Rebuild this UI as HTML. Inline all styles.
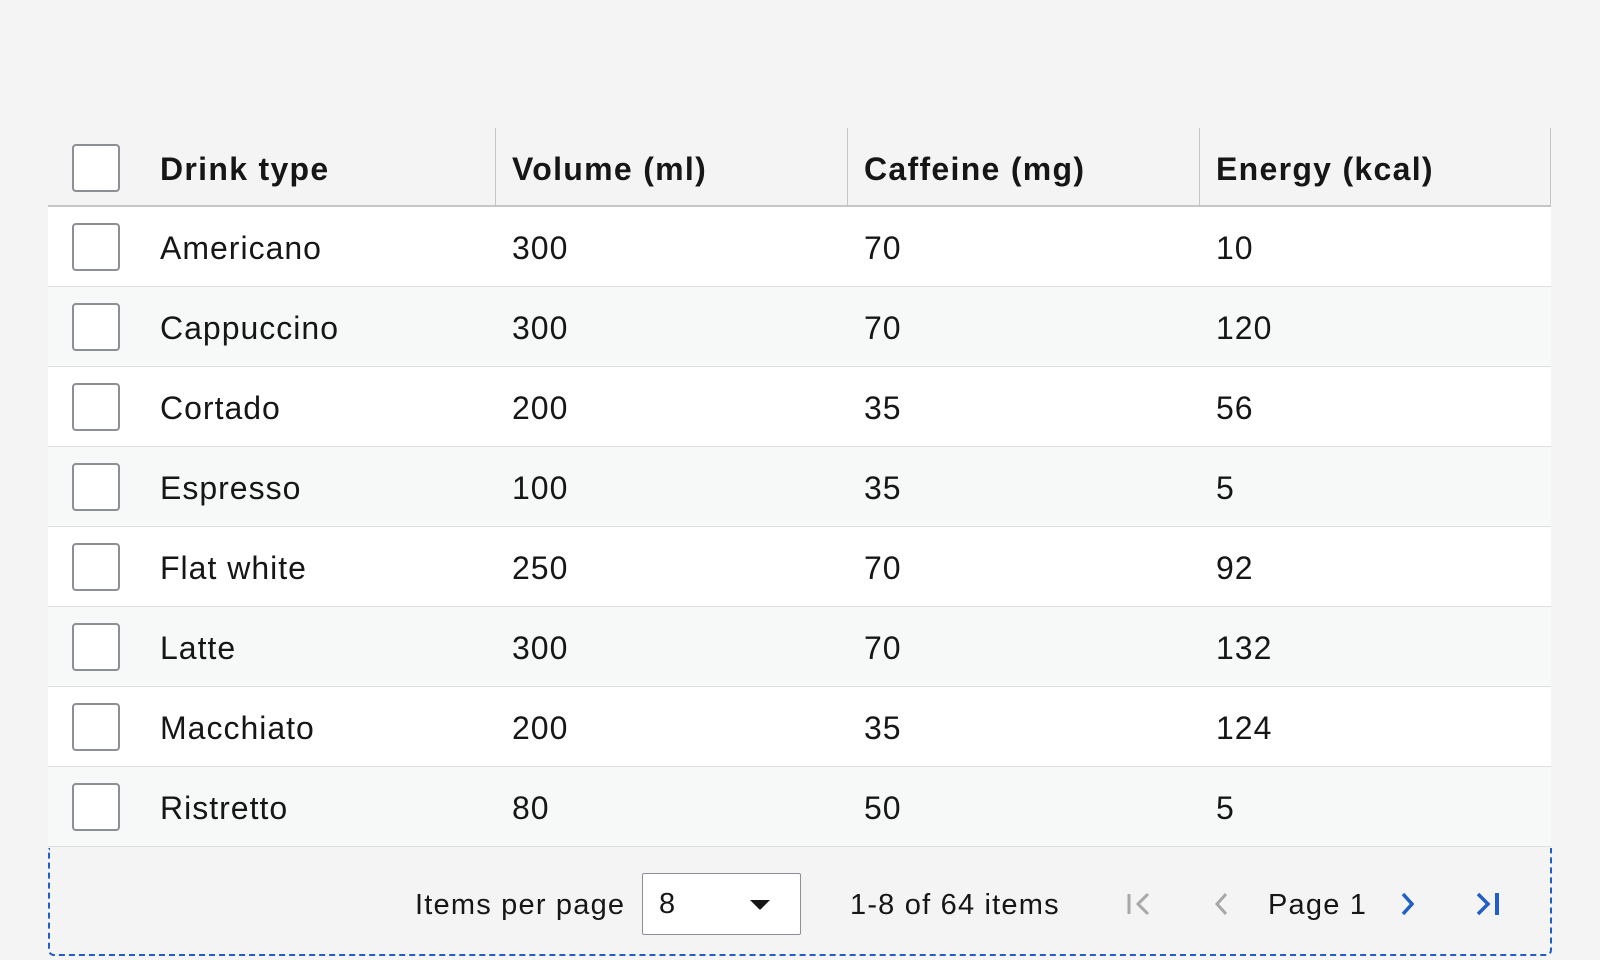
<!DOCTYPE html>
<html><head><meta charset="utf-8"><style>
body{margin:0;width:1600px;height:960px;background:#f4f4f4;font-family:"Liberation Sans",sans-serif;color:#161616;position:relative;overflow:hidden}
.abs{position:absolute}
.row{position:absolute;left:48px;width:1503px;height:79px;border-bottom:1px solid #e0e0e0}
.cb{position:absolute;left:24px;width:48px;height:48px;border:2px solid #8d8f96;border-radius:4px;background:#fff;box-sizing:border-box}
.cell{position:absolute;font-size:32px;line-height:32px;letter-spacing:1px}
.hd{font-weight:bold;letter-spacing:1.3px}
.sep{position:absolute;top:128px;width:1px;height:79px;background:#c6c6c6}
.ft{position:absolute;font-size:29px;line-height:32px;top:889px;letter-spacing:1.2px}
svg.ic{position:absolute;top:892px}
</style></head><body>
<div class="row" style="top:128px;background:#f4f4f4;border-bottom:2px solid #c6c6c6;height:77px">
 <div class="cb" style="top:16px"></div>
 <div class="cell hd" style="left:112px;top:25px">Drink type</div>
 <div class="cell hd" style="left:464px;top:25px">Volume (ml)</div>
 <div class="cell hd" style="left:816px;top:25px">Caffeine (mg)</div>
 <div class="cell hd" style="left:1168px;top:25px">Energy (kcal)</div>
</div>
<div class="sep" style="left:495px"></div>
<div class="sep" style="left:847px"></div>
<div class="sep" style="left:1199px"></div>
<div class="sep" style="left:1550px"></div>
<div id="rows"></div>
<div class="abs" style="left:48px;top:848px;width:1500px;height:106px;border:2px dashed #1f5fc7;border-top:none;border-radius:0 0 6px 6px"></div>
<div class="ft" style="left:415px">Items per page</div>
<div class="abs" style="left:642px;top:873px;width:159px;height:62px;border:1px solid #8d8f96;box-sizing:border-box;border-radius:2px;background:#fff">
 <span style="position:absolute;left:16px;top:14px;font-size:29px">8</span>
 <span style="position:absolute;right:30px;top:26px;width:0;height:0;border-left:10px solid transparent;border-right:10px solid transparent;border-top:10px solid #161616"></span>
</div>
<div class="ft" style="left:850px">1-8 of 64 items</div>
<svg class="ic" style="left:1126px" width="28" height="24"><path d="M3 2V22" stroke="#a8a8a8" stroke-width="3"/><path d="M22 2L12 12L22 22" stroke="#a8a8a8" stroke-width="3" fill="none"/></svg>
<svg class="ic" style="left:1212px" width="20" height="24"><path d="M14 2L5 12L14 22" stroke="#a8a8a8" stroke-width="3" fill="none"/></svg>
<div class="ft" style="left:1268px">Page 1</div>
<svg class="ic" style="left:1398px" width="20" height="24"><path d="M5 2L14 12L5 22" stroke="#1f5fc7" stroke-width="3.5" fill="none"/></svg>
<svg class="ic" style="left:1474px" width="30" height="24"><path d="M4 2L14 12L4 22" stroke="#1f5fc7" stroke-width="3.5" fill="none"/><path d="M23 1V23" stroke="#1f5fc7" stroke-width="4"/></svg>
<script>
const drinks=["Americano","Cappuccino","Cortado","Espresso","Flat white","Latte","Macchiato","Ristretto"];
const volume=[300,300,200,100,250,300,200,80];
const caffeine=[70,70,35,35,70,70,35,50];
const energy=[10,120,56,5,92,132,124,5];
const host=document.getElementById('rows');
drinks.forEach((d,i)=>{
 const r=document.createElement('div');
 r.className='row';
 
 
 r.style.top=(207+i*80)+'px';
 r.style.background=i%2?'#f7f8f8':'#ffffff';
 const cb=document.createElement('div');cb.className='cb';cb.style.top='16px';
 
 
 r.appendChild(cb);
 [[d,112],[volume[i],464],[caffeine[i],816],[energy[i],1168]].forEach(([t,x])=>{
  const c=document.createElement('div');c.className='cell';c.style.left=x+'px';c.style.top='25px';c.textContent=t;
  
  
  r.appendChild(c);
 });
 host.appendChild(r);
});
</script>
</body></html>
